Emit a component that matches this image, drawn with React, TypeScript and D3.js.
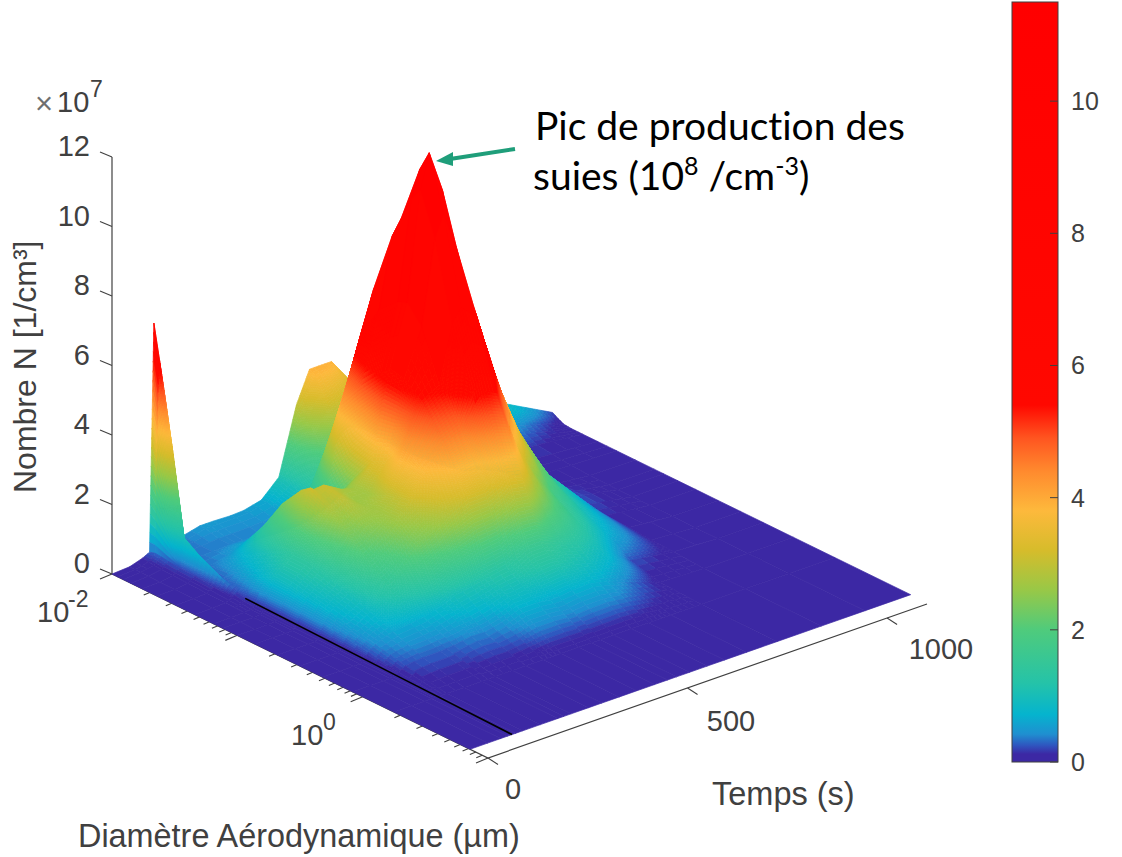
import React, { useEffect, useRef } from 'react';
import * as d3 from 'd3';

// aerodynamic diameter in um, one column of the table per value
const diameters = [0.01, 0.0111, 0.0123, 0.0141, 0.0174, 0.0229, 0.0324, 0.0457, 0.0646, 0.0767, 0.1, 0.138, 0.209, 0.316, 0.479, 0.832, 1.78, 7.2];
// time in s, one row of the table per value
const times = [0, 44, 77, 94, 105, 115, 132, 176, 220, 235, 253, 297, 330, 374, 418, 462, 495, 517, 550, 594, 638, 693, 770, 880, 990, 1104];
// N in 1e7 /cm3
const counts = [
  [0, 0, 0, 0, 0, 0, 0, 0, 0, 0, 0, 0, 0, 0, 0, 0, 0, 0],
  [0.03, 0.03, 0.03, 0.02, 0.02, 0.01, 0.01, 0, 0, 0, 0, 0, 0, 0, 0, 0, 0, 0],
  [0.15, 0.12, 0.09, 0.08, 0.07, 0.06, 0.04, 0.03, 0.01, 0, 0, 0, 0, 0, 0, 0, 0, 0],
  [0.25, 0.3, 0.28, 0.25, 0.22, 0.2, 0.15, 0.1, 0.04, 0.02, 0.01, 0, 0, 0, 0, 0, 0, 0],
  [6.8, 5.8, 4.8, 3.4, 1.05, 0.75, 0.48, 0.2, 0.15, 0.14, 0.13, 0.12, 0.11, 0.1, 0.09, 0.07, 0.04, 0],
  [0.3, 0.3, 0.3, 0.3, 0.3, 0.3, 0.28, 0.3, 0.42, 0.48, 0.48, 0.45, 0.42, 0.34, 0.25, 0.1, 0, 0],
  [0.34, 0.34, 0.34, 0.34, 0.34, 0.34, 0.38, 0.55, 0.8, 0.95, 0.92, 0.82, 0.7, 0.55, 0.42, 0.22, 0, 0],
  [0.38, 0.38, 0.38, 0.36, 0.36, 0.45, 0.8, 1.05, 1.3, 1.4, 1.4, 1.25, 1.05, 0.85, 0.6, 0.28, 0, 0],
  [0.5, 0.5, 0.46, 0.4, 0.38, 0.65, 1.4, 2.3, 2.95, 3.15, 2.95, 2.5, 1.95, 1.4, 0.65, 0.28, 0, 0],
  [0.5, 0.5, 0.46, 0.4, 0.38, 0.62, 1.3, 2.15, 2.8, 3, 2.85, 2.5, 2.05, 1.5, 0.68, 0.3, 0, 0],
  [0.5, 0.5, 0.46, 0.4, 0.38, 0.62, 1.25, 2.1, 2.85, 3.1, 3.05, 2.7, 2.2, 1.7, 0.7, 0.32, 0, 0],
  [0.48, 0.5, 0.46, 0.42, 0.38, 0.6, 1.05, 1.7, 2.5, 2.8, 2.65, 2.7, 2.7, 2.3, 0.85, 0.4, 0, 0],
  [0.5, 0.52, 0.48, 0.44, 0.4, 0.6, 1.1, 1.75, 2.5, 2.7, 2.7, 2.95, 3.1, 2.5, 1, 0.38, 0, 0],
  [0.62, 0.64, 0.6, 0.55, 0.5, 0.7, 1.4, 2.1, 2.9, 3.3, 3.5, 4.2, 3.8, 2.9, 1.1, 0.5, 0, 0],
  [1.1, 1.1, 1.05, 1, 1.1, 2.4, 4.2, 4.9, 5.5, 5.8, 5.7, 5.3, 4.4, 3.2, 1.2, 0.7, 0, 0],
  [3, 2.9, 2.7, 2.4, 1.9, 3.6, 5.9, 6.9, 7.4, 7.5, 7, 5.6, 4.6, 3.2, 1.3, 0.7, 0, 0],
  [3.9, 3.8, 3.5, 3.1, 2.4, 4.3, 7.1, 8.9, 10.2, 10.6, 9.4, 7.2, 5.2, 3.4, 1.5, 0.65, 0, 0],
  [3.9, 3.9, 3.6, 3.2, 2.6, 4.6, 7.4, 9.3, 11, 11.6, 10, 7.6, 5.5, 3.6, 1.6, 0.65, 0, 0],
  [3.9, 3.7, 3.4, 3, 2.4, 3.8, 6, 8, 9.6, 10.4, 8.9, 7.2, 5.3, 3.5, 1.6, 0.7, 0, 0],
  [3.2, 3.1, 2.9, 2.5, 2, 2.8, 4.5, 6, 7.2, 7.6, 7, 5.6, 3.7, 2.6, 1.4, 0.72, 0, 0],
  [2.6, 2.5, 2.3, 2, 1.5, 2, 3.2, 4.4, 5.3, 5.5, 5.1, 4, 2.7, 2, 1.25, 0.6, 0, 0],
  [1.9, 1.9, 1.7, 1.4, 1, 1.2, 2, 2.9, 3.5, 3.6, 3.3, 2.6, 1.8, 1.4, 0.95, 0.35, 0, 0],
  [1.3, 1.3, 1.1, 0.8, 0.4, 0.5, 0.9, 1.4, 1.7, 1.7, 1.6, 1.3, 1, 0.7, 0.25, 0.05, 0, 0],
  [1, 0.95, 0.6, 0.45, 0.25, 0.2, 0.12, 0.15, 0.22, 0.25, 0.22, 0.15, 0.12, 0.08, 0.06, 0, 0, 0],
  [0.9, 0.8, 0.45, 0.3, 0.15, 0.1, 0.04, 0.01, 0, 0, 0, 0, 0, 0, 0, 0, 0, 0],
  [0.2, 0.1, 0.02, 0, 0, 0, 0, 0, 0, 0, 0, 0, 0, 0, 0, 0, 0, 0],
];

// black line drawn on the surface at t = 105 s
const blackDiams = [0.0535, 0.832, 7.2];
const blackCounts = [0.16, 0.07, 0];

const zTicks = [0, 2, 4, 6, 8, 10, 12];
const timeTicks = [0, 500, 1000];
const colorTicks = [0, 2, 4, 6, 8, 10];
const colorStops = [0, 0.12, 0.25, 0.42, 0.72, 1.2, 2, 2.6, 3.2, 3.8, 4.4, 4.9, 5.4, 11.5];
const colorValues = ['#3c28a4', '#3c28a4', '#2f55bf', '#1f8fd0', '#05b4ce', '#25c3a8', '#4fcb7c', '#98c847', '#d6bc2b', '#fdb93c', '#ff8a2e', '#ff5520', '#ff0800', '#ff0000'];

const INK = '#404040';
const SANS = '"Liberation Sans", Arial, sans-serif';

const colorScale = d3.scaleLinear<string>().domain(colorStops).range(colorValues).clamp(true);
const diamScale = d3.scaleLog().domain([0.01, 10]).range([0, 1]);
const timeScale = d3.scaleLinear().domain([0, 1100]).range([0, 1]);
const zScale = d3.scaleLinear().domain([0, 12]).range([0, 417]);
const barScale = d3.scaleLinear().domain([0, 11.5]).range([762, 2]);

// orthographic view: surface coordinates a (diameter) and b (time) in 0..1
const place = (a: number, b: number, z: number): [number, number] => [
  112 + 376 * a + 439 * b,
  574 + 184 * a - 154 * b - zScale(z),
];
const project = (d: number, t: number, z: number) => place(diamScale(d), timeScale(t), z);

const lineGen = d3.line();

function buildCells() {
  const cells: { d: string; fill: string }[] = [];
  const cap = (v: number) => Math.min(v, 5.6);
  // far corner first: small diameter, late time
  for (let i = 0; i < diameters.length - 1; i++) {
    const a0 = diamScale(diameters[i]);
    const a1 = diamScale(diameters[i + 1]);
    for (let j = times.length - 2; j >= 0; j--) {
      const b0 = timeScale(times[j]);
      const b1 = timeScale(times[j + 1]);
      const z00 = counts[j][i];
      const z10 = counts[j][i + 1];
      const z01 = counts[j + 1][i];
      const z11 = counts[j + 1][i + 1];
      const na = Math.min(24, Math.max(1, Math.ceil(Math.max(Math.abs(cap(z10) - cap(z00)), Math.abs(cap(z11) - cap(z01))) / 0.06)));
      const nb = Math.min(24, Math.max(1, Math.ceil(Math.max(Math.abs(cap(z01) - cap(z00)), Math.abs(cap(z11) - cap(z10))) / 0.06)));
      const zAt = (p: number, q: number) => (z00 * (1 - p) + z10 * p) * (1 - q) + (z01 * (1 - p) + z11 * p) * q;
      const ptAt = (p: number, q: number) => place(a0 + (a1 - a0) * p, b0 + (b1 - b0) * q, zAt(p, q));
      for (let u = 0; u < na; u++) {
        for (let v = nb - 1; v >= 0; v--) {
          const p0 = u / na;
          const p1 = (u + 1) / na;
          const q0 = v / nb;
          const q1 = (v + 1) / nb;
          const path = lineGen([ptAt(p0, q0), ptAt(p1, q0), ptAt(p1, q1), ptAt(p0, q1)]) + 'Z';
          cells.push({ d: path, fill: colorScale(zAt((p0 + p1) / 2, (q0 + q1) / 2)) });
        }
      }
    }
  }
  return cells;
}

const Txt = ({ x, y, size = 29, anchor = 'start', fill = INK, family = SANS, children }: any) => (
  <text x={x} y={y} fontSize={size} textAnchor={anchor} fill={fill} fontFamily={family}>{children}</text>
);

export default function App() {
  const surfRef = useRef<SVGGElement>(null);

  useEffect(() => {
    const g = d3.select(surfRef.current);
    g.selectAll('path')
      .data(buildCells())
      .join('path')
      .attr('d', (c) => c.d)
      .attr('fill', (c) => c.fill)
      .attr('stroke', (c) => c.fill)
      .attr('stroke-width', 0.7)
      .attr('stroke-linejoin', 'round');
  }, []);

  const blackLine = blackDiams.map((d, i) => project(d, 105, blackCounts[i]));

  const diamTicks = diamScale.ticks();
  const originCorner = project(0.01, 0, 0);
  const frontCorner = project(10, 0, 0);
  const timeEnd = project(10, 1100, 0);

  return (
    <svg width={1122} height={857} style={{ position: 'absolute', left: 0, top: 0, display: 'block' }}>
      <defs>
        <linearGradient id="bar" x1="0" x2="0" y1="1" y2="0">
          {colorStops.map((s, i) => (
            <stop key={s} offset={s / 11.5} stopColor={colorValues[i]} />
          ))}
        </linearGradient>
      </defs>

      {/* axes */}
      <path d={lineGen([project(0.01, 0, 0), project(0.01, 0, 12)]) as string} stroke={INK} strokeWidth={1.2} fill="none" />
      <path d={lineGen([originCorner, frontCorner, timeEnd]) as string} stroke={INK} strokeWidth={1.2} fill="none" />
      {zTicks.map((t) => {
        const [x, y] = project(0.01, 0, t);
        return (
          <g key={t}>
            <path d={lineGen([[x, y], [x - 12, y - 5]]) as string} stroke={INK} strokeWidth={1.1} />
            <Txt x={90} y={y - 1} anchor="end">{t}</Txt>
          </g>
        );
      })}
      {diamTicks.map((d) => {
        const [x, y] = project(d, 0, 0);
        const major = Math.abs(Math.log10(d) - Math.round(Math.log10(d))) < 1e-6;
        const len = major ? 12 : 6;
        return <path key={d} d={lineGen([[x, y], [x - len, y + len * 0.42]]) as string} stroke={INK} strokeWidth={1.1} />;
      })}
      {timeTicks.map((t) => {
        const [x, y] = project(10, t, 0);
        return <path key={t} d={lineGen([[x, y], [x + 10, y + 6.5]]) as string} stroke={INK} strokeWidth={1.1} />;
      })}

      <g ref={surfRef} />
      <path d={lineGen(blackLine) as string} stroke="#000" strokeWidth={1.6} fill="none" />

      {/* axis labels */}
      <Txt x={35} y={114} size={31} fill="#707070">×</Txt>
      <Txt x={57} y={112}>10</Txt>
      <Txt x={90} y={97} size={23}>7</Txt>
      <Txt x={37} y={622}>10</Txt>
      <Txt x={68} y={607} size={23}>-2</Txt>
      <Txt x={291} y={745}>10</Txt>
      <Txt x={323} y={730} size={23}>0</Txt>
      <Txt x={513} y={799} anchor="middle">0</Txt>
      <Txt x={731} y={731} anchor="middle">500</Txt>
      <Txt x={941} y={659} anchor="middle">1000</Txt>
      <Txt x={712} y={805} size={32.5}>Temps (s)</Txt>
      <Txt x={78} y={847} size={32.4}>Diamètre Aérodynamique (µm)</Txt>
      <g transform="translate(36,493) rotate(-90)">
        <Txt x={0} y={0} size={32}>Nombre N [1/cm³]</Txt>
      </g>

      {/* colorbar */}
      <rect x={1012} y={barScale(11.5)} width={46} height={barScale(0) - barScale(11.5)} fill="url(#bar)" stroke={INK} strokeWidth={1} />
      {colorTicks.map((t) => (
        <g key={t}>
          <path d={lineGen([[1050, barScale(t)], [1058, barScale(t)]]) as string} stroke={INK} strokeWidth={1} />
          <Txt x={1071} y={barScale(t) + 9} size={25}>{t}</Txt>
        </g>
      ))}

      {/* annotation */}
      <path d={lineGen([[515, 149], [450, 159]]) as string} stroke="#1f9e7a" strokeWidth={4} fill="none" />
      <path d={lineGen([[436, 161], [453, 152], [453, 166]]) + 'Z'} fill="#1f9e7a" />
      <g style={{ fontVariantLigatures: 'none' }}>
        <Txt x={535} y={140} size={39} fill="#000" family="Lato, sans-serif">Pic de production des</Txt>
        <text x={533} y={190} fontSize={39} fill="#000" fontFamily="Lato, sans-serif">
          suies (10<tspan dy={-15} fontSize={25}>8</tspan><tspan dy={15}> /cm</tspan><tspan dy={-15} fontSize={25}>-3</tspan><tspan dy={15}>)</tspan>
        </text>
      </g>
    </svg>
  );
}
